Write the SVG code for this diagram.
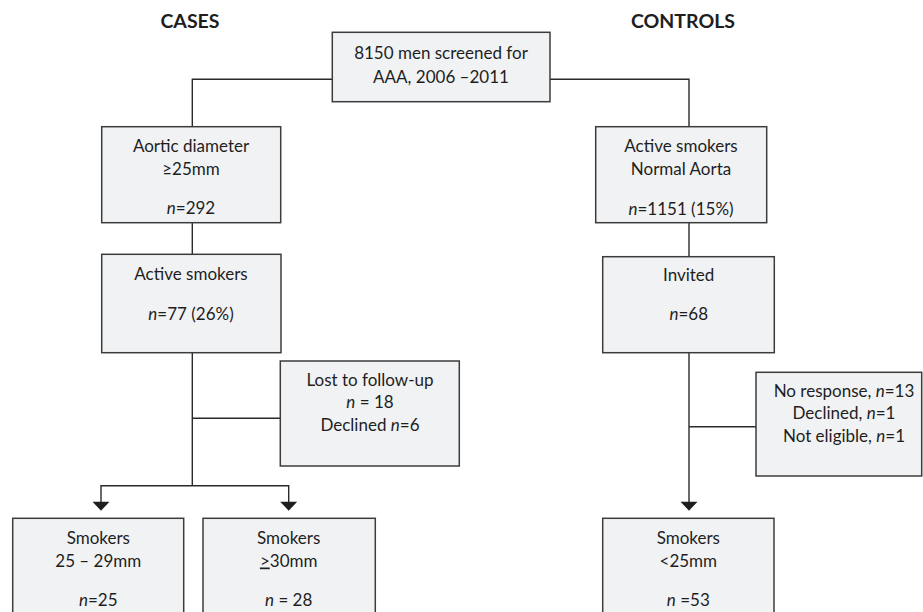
<svg xmlns="http://www.w3.org/2000/svg" width="923" height="612" viewBox="0 0 923 612">
<style>
.box{fill:#f1f2f4;stroke:#3c3c3c;stroke-width:1.5}
.ln{fill:none;stroke:#2a2a2a;stroke-width:1.4}
.ah{fill:#1e1e1e;stroke:none}
text{font-family:Lato,"Open Sans","Liberation Sans",sans-serif;font-size:17px;fill:#1e1e1e;text-anchor:middle}
.hd{font-weight:bold;font-size:19.5px}
.i{font-style:italic}
</style>
<rect width="923" height="612" fill="#ffffff"/>
<text class="hd" x="190" y="27.5">CASES</text>
<text class="hd" x="683" y="27.5">CONTROLS</text>
<g id="connectors">
<polyline class="ln" points="332,79.3 192.3,79.3 192.3,127"/>
<polyline class="ln" points="550,79.3 689,79.3 689,127"/>
<line class="ln" x1="192.3" y1="222.7" x2="192.3" y2="254.3"/>
<line class="ln" x1="689" y1="222.7" x2="689" y2="256.7"/>
<line class="ln" x1="192.3" y1="352.7" x2="192.3" y2="485.7"/>
<line class="ln" x1="192.3" y1="418.3" x2="280.3" y2="418.3"/>
<polyline class="ln" points="101,503 101,485.7 288.7,485.7 288.7,503"/>
<line class="ln" x1="689" y1="352.7" x2="689" y2="503"/>
<line class="ln" x1="689" y1="426.7" x2="756" y2="426.7"/>
<path class="ah" d="M92.5,501.7 L109.5,501.7 L101,510.7 Z"/>
<path class="ah" d="M280.2,501.7 L297.2,501.7 L288.7,510.7 Z"/>
<path class="ah" d="M680.5,501.7 L697.5,501.7 L689,510.7 Z"/>
</g>
<g id="screened">
<rect class="box" x="332.3" y="32.3" width="217.7" height="69.4"/>
<text x="441" y="59">8150 men screened for</text>
<text x="441" y="83">AAA, 2006 –2011</text>
</g>
<g id="aortic">
<rect class="box" x="101.7" y="126.7" width="179" height="96"/>
<text x="191" y="151.5">Aortic diameter</text>
<text x="191" y="174.5">≥25mm</text>
<text x="191" y="214"><tspan class="i">n</tspan>=292</text>
</g>
<g id="cases-smokers">
<rect class="box" x="101.7" y="254.3" width="179.3" height="98.4"/>
<text x="191" y="279.5">Active smokers</text>
<text x="191" y="319.5"><tspan class="i">n</tspan>=77 (26%)</text>
</g>
<g id="lost">
<rect class="box" x="280.3" y="361" width="179" height="105"/>
<text x="370" y="385.5">Lost to follow-up</text>
<text x="370" y="408"><tspan class="i">n</tspan> = 18</text>
<text x="370" y="430.5">Declined <tspan class="i">n</tspan>=6</text>
</g>
<g id="cases-25-29">
<rect class="box" x="12.7" y="518.3" width="171" height="120"/>
<text x="98.3" y="543.5">Smokers</text>
<text x="98.3" y="566.5">25 – 29mm</text>
<text x="98.3" y="605.5"><tspan class="i">n</tspan>=25</text>
</g>
<g id="cases-30">
<rect class="box" x="203" y="518.3" width="172.3" height="120"/>
<text x="288.7" y="543.5">Smokers</text>
<text x="288.7" y="566.5"><tspan text-decoration="underline">&gt;</tspan>30mm</text>
<text x="288.7" y="605.5"><tspan class="i">n</tspan> = 28</text>
</g>
<g id="controls-normal">
<rect class="box" x="595.7" y="126.7" width="171" height="96"/>
<text x="681" y="151.5">Active smokers</text>
<text x="681" y="174.5">Normal Aorta</text>
<text x="681" y="214.5"><tspan class="i">n</tspan>=1151 (15%)</text>
</g>
<g id="invited">
<rect class="box" x="602.7" y="256.7" width="171.6" height="96"/>
<text x="688.7" y="280.5">Invited</text>
<text x="688.7" y="320"><tspan class="i">n</tspan>=68</text>
</g>
<g id="controls-excluded">
<rect class="box" x="756" y="372.3" width="165.7" height="103.7"/>
<text x="844" y="396.5">No response, <tspan class="i">n</tspan>=13</text>
<text x="844" y="419">Declined, <tspan class="i">n</tspan>=1</text>
<text x="844" y="441.5">Not eligible, <tspan class="i">n</tspan>=1</text>
</g>
<g id="controls-smokers">
<rect class="box" x="602.7" y="518.3" width="171.3" height="120"/>
<text x="688.3" y="543.5">Smokers</text>
<text x="688.3" y="566.5">&lt;25mm</text>
<text x="688.3" y="605.5"><tspan class="i">n</tspan> =53</text>
</g>
</svg>
